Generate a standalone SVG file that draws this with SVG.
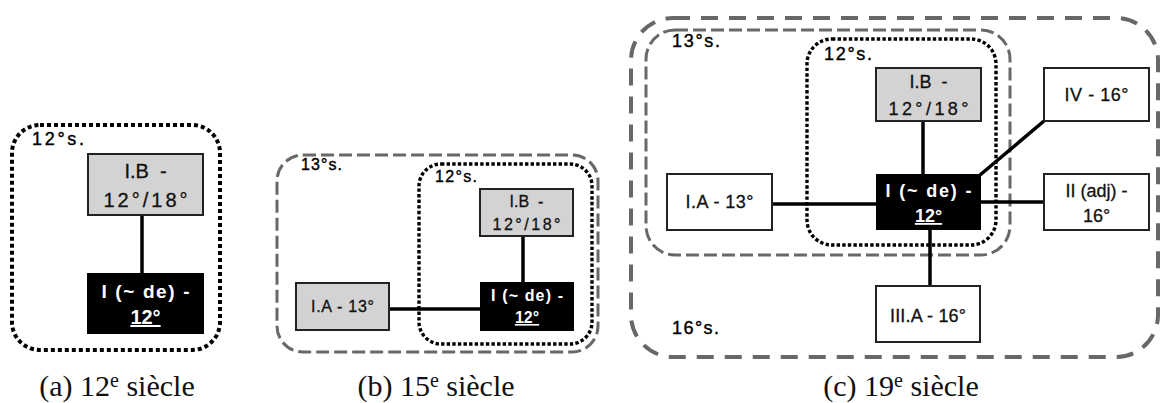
<svg xmlns="http://www.w3.org/2000/svg" width="1161" height="403" viewBox="0 0 1161 403">
<style>
  .bg{fill:#ffffff}
  .dot4{fill:none;stroke:#000;stroke-width:4;stroke-dasharray:4 3}
  .dot3{fill:none;stroke:#000;stroke-width:3.4;stroke-dasharray:3.4 2.2}
  .dash3{fill:none;stroke:#686868;stroke-width:3;stroke-dasharray:13 5}
  .dash4{fill:none;stroke:#686868;stroke-width:4;stroke-dasharray:17 11}
  .gray{fill:#d3d3d3;stroke:#222;stroke-width:2}
  .white{fill:#fff;stroke:#222;stroke-width:2}
  .black{fill:#000;stroke:#000;stroke-width:2}
  .edge{stroke:#000;stroke-width:3.5;fill:none}
  .lbl{font-family:"Liberation Sans",Arial,sans-serif;fill:#111;stroke:#111;stroke-width:0.3;text-anchor:middle}
  .inv{font-family:"Liberation Sans",Arial,sans-serif;fill:#fff;font-weight:bold;text-anchor:middle}
  .grp{font-family:"Liberation Sans",Arial,sans-serif;fill:#000;stroke:#000;stroke-width:0.4}
  .cap{font-family:"Liberation Serif","Times New Roman",serif;fill:#111;font-size:30px;text-anchor:middle}
</style>
<rect class="bg" x="0" y="0" width="1161" height="403"/>

<!-- Panel (a) -->
<g id="a-group-12">
  <rect class="dot4" x="12" y="125" width="208" height="225" rx="28"/>
  <text class="grp" x="32" y="145" font-size="18" textLength="52" lengthAdjust="spacing">12°s.</text>
</g>
<g id="a-edges">
  <line class="edge" x1="142" y1="215" x2="142" y2="274" stroke-width="4"/>
</g>
<g id="a-IB">
  <rect class="gray" x="88" y="154" width="115" height="61"/>
  <text class="lbl" x="145.5" y="178" font-size="20" xml:space="preserve">I.B  -</text>
  <text class="lbl" x="145.5" y="207" font-size="20" textLength="84" lengthAdjust="spacing">12°/18°</text>
</g>
<g id="a-I">
  <rect class="black" x="88" y="274" width="115" height="59"/>
  <text class="inv" x="145.5" y="298" font-size="19" textLength="88" lengthAdjust="spacing">I (~ de) -</text>
  <text class="inv" x="145.5" y="324" font-size="20" text-decoration="underline">12°</text>
</g>
<text class="cap" x="117" y="396">(a) 12<tspan font-size="20" dy="-9">e</tspan><tspan dy="9"> siècle</tspan></text>

<!-- Panel (b) -->
<g id="b-group-13">
  <rect class="dash3" x="277" y="155" width="321" height="197" rx="26"/>
  <text class="grp" x="301" y="170" font-size="16" textLength="41" lengthAdjust="spacing">13°s.</text>
</g>
<g id="b-group-12">
  <rect class="dot3" x="419" y="164" width="173" height="180" rx="22"/>
  <text class="grp" x="435" y="182" font-size="16" textLength="42" lengthAdjust="spacing">12°s.</text>
</g>
<g id="b-edges">
  <line class="edge" x1="523" y1="236" x2="523" y2="283"/>
  <line class="edge" x1="389" y1="309" x2="481" y2="309"/>
</g>
<g id="b-IB">
  <rect class="gray" x="480" y="189" width="93" height="47"/>
  <text class="lbl" x="526.5" y="207" font-size="16" xml:space="preserve">I.B  -</text>
  <text class="lbl" x="526.5" y="230" font-size="16" textLength="68" lengthAdjust="spacing">12°/18°</text>
</g>
<g id="b-I">
  <rect class="black" x="481" y="283" width="92" height="47"/>
  <text class="inv" x="527" y="301" font-size="16" textLength="72" lengthAdjust="spacing">I (~ de) -</text>
  <text class="inv" x="527" y="323" font-size="16" text-decoration="underline">12°</text>
</g>
<g id="b-IA">
  <rect class="gray" x="296" y="283" width="93" height="47"/>
  <text class="lbl" x="342.5" y="312" font-size="16" textLength="63" lengthAdjust="spacing">I.A - 13°</text>
</g>
<text class="cap" x="436" y="396">(b) 15<tspan font-size="20" dy="-9">e</tspan><tspan dy="9"> siècle</tspan></text>

<!-- Panel (c) -->
<g id="c-group-16">
  <rect class="dash4" x="631" y="18" width="527" height="339" rx="42"/>
  <text class="grp" x="672" y="334" font-size="18" textLength="47" lengthAdjust="spacing">16°s.</text>
</g>
<g id="c-group-13">
  <rect class="dash3" x="646" y="30" width="364" height="225" rx="29"/>
  <text class="grp" x="672" y="47" font-size="18" textLength="48" lengthAdjust="spacing">13°s.</text>
</g>
<g id="c-group-12">
  <rect class="dot3" x="807" y="39" width="189" height="206" rx="25"/>
  <text class="grp" x="824" y="60" font-size="18" textLength="48" lengthAdjust="spacing">12°s.</text>
</g>
<g id="c-edges">
  <line class="edge" x1="923" y1="121" x2="923" y2="175"/>
  <line class="edge" x1="772" y1="204" x2="877" y2="204"/>
  <line class="edge" x1="980" y1="175" x2="1044" y2="121"/>
  <line class="edge" x1="980" y1="202" x2="1044" y2="202"/>
  <line class="edge" x1="930" y1="229" x2="930" y2="286"/>
</g>
<g id="c-IB">
  <rect class="gray" x="876" y="68" width="105" height="53"/>
  <text class="lbl" x="928.5" y="88" font-size="18" xml:space="preserve">I.B  -</text>
  <text class="lbl" x="928.5" y="115" font-size="18" textLength="80" lengthAdjust="spacing">12°/18°</text>
</g>
<g id="c-I">
  <rect class="black" x="877" y="175" width="103" height="54"/>
  <text class="inv" x="928.5" y="197" font-size="18" textLength="86" lengthAdjust="spacing">I (~ de) -</text>
  <text class="inv" x="928.5" y="222" font-size="18" text-decoration="underline">12°</text>
</g>
<g id="c-IA">
  <rect class="white" x="667" y="174" width="105" height="56"/>
  <text class="lbl" x="719.5" y="208" font-size="18" textLength="68" lengthAdjust="spacing">I.A - 13°</text>
</g>
<g id="c-IV">
  <rect class="white" x="1044" y="68" width="105" height="53"/>
  <text class="lbl" x="1096.5" y="101" font-size="18" textLength="64" lengthAdjust="spacing">IV - 16°</text>
</g>
<g id="c-II">
  <rect class="white" x="1044" y="174" width="105" height="56"/>
  <text class="lbl" x="1096.5" y="197" font-size="18">II (adj) -</text>
  <text class="lbl" x="1096.5" y="222" font-size="18">16°</text>
</g>
<g id="c-IIIA">
  <rect class="white" x="876" y="286" width="104" height="56"/>
  <text class="lbl" x="928" y="322" font-size="18" textLength="76" lengthAdjust="spacing">III.A - 16°</text>
</g>
<text class="cap" x="901" y="396">(c) 19<tspan font-size="20" dy="-9">e</tspan><tspan dy="9"> siècle</tspan></text>
</svg>
